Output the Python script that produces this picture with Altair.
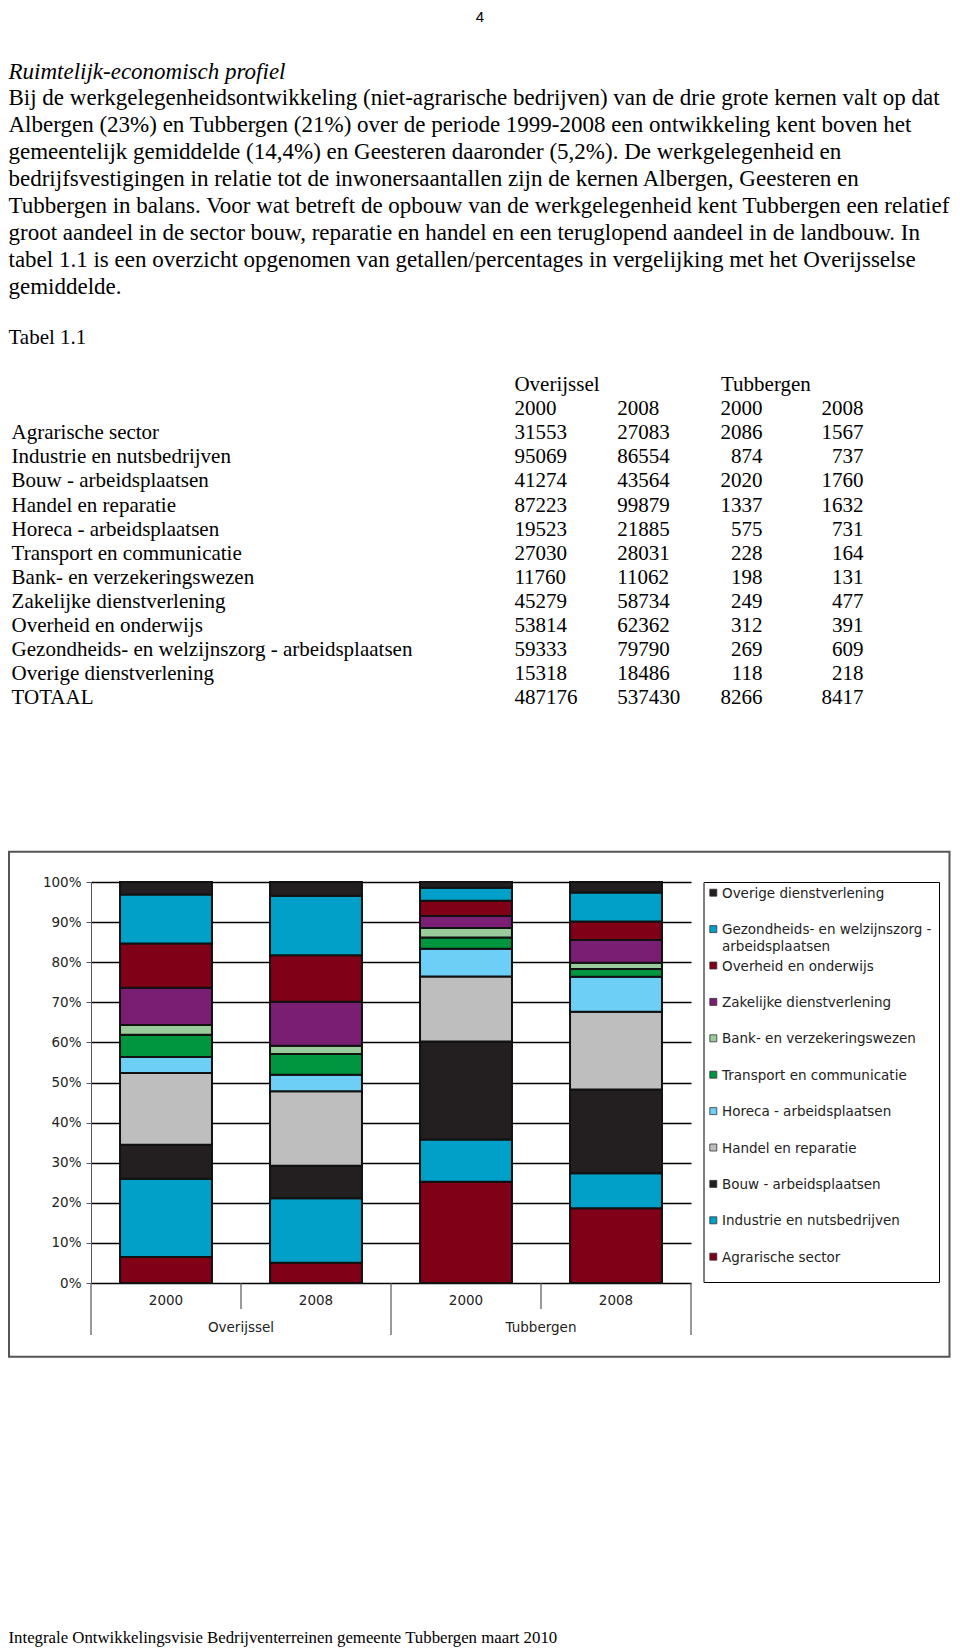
import altair as alt
import pandas as pd

# ---------------- data ----------------
sectors = [
    "Agrarische sector",
    "Industrie en nutsbedrijven",
    "Bouw - arbeidsplaatsen",
    "Handel en reparatie",
    "Horeca - arbeidsplaatsen",
    "Transport en communicatie",
    "Bank- en verzekeringswezen",
    "Zakelijke dienstverlening",
    "Overheid en onderwijs",
    "Gezondheids- en welzijnszorg - arbeidsplaatsen",
    "Overige dienstverlening",
]
legend_labels = [
    "Agrarische sector",
    "Industrie en nutsbedrijven",
    "Bouw - arbeidsplaatsen",
    "Handel en reparatie",
    "Horeca - arbeidsplaatsen",
    "Transport en communicatie",
    "Bank- en verzekeringswezen",
    "Zakelijke dienstverlening",
    "Overheid en onderwijs",
    "Gezondheids- en welzijnszorg -\narbeidsplaatsen",
    "Overige dienstverlening",
]
colors = [
    "#800018", "#00a0c8", "#231f20", "#bebebe", "#6dcff6", "#00963f",
    "#9acb9a", "#7a1e73", "#800018", "#00a0c8", "#231f20",
]
ov2000 = [31553, 95069, 41274, 87223, 19523, 27030, 11760, 45279, 53814, 59333, 15318]
ov2008 = [27083, 86554, 43564, 99879, 21885, 28031, 11062, 58734, 62362, 79790, 18486]
tu2000 = [2086, 874, 2020, 1337, 575, 228, 198, 249, 312, 269, 118]
tu2008 = [1567, 737, 1760, 1632, 731, 164, 131, 477, 391, 609, 218]
totals = [487176, 537430, 8266, 8417]

keys = ["Overijssel 2000", "Overijssel 2008", "Tubbergen 2000", "Tubbergen 2008"]
groups = ["Overijssel", "Overijssel", "Tubbergen", "Tubbergen"]
years = ["2000", "2008", "2000", "2008"]

page_number = "4"
title_text = "Ruimtelijk-economisch profiel"
para_lines = [
    "Bij de werkgelegenheidsontwikkeling (niet-agrarische bedrijven) van de drie grote kernen valt op dat",
    "Albergen (23%) en Tubbergen (21%) over de periode 1999-2008 een ontwikkeling kent boven het",
    "gemeentelijk gemiddelde (14,4%) en Geesteren daaronder (5,2%). De werkgelegenheid en",
    "bedrijfsvestigingen in relatie tot de inwonersaantallen zijn de kernen Albergen, Geesteren en",
    "Tubbergen in balans. Voor wat betreft de opbouw van de werkgelegenheid kent Tubbergen een relatief",
    "groot aandeel in de sector bouw, reparatie en handel en een teruglopend aandeel in de landbouw. In",
    "tabel 1.1 is een overzicht opgenomen van getallen/percentages in vergelijking met het Overijsselse",
    "gemiddelde.",
]
table_caption = "Tabel 1.1"
footer_text = "Integrale Ontwikkelingsvisie Bedrijventerreinen gemeente Tubbergen maart 2010"
table_rows = sectors + ["TOTAAL"]

SERIF = "Liberation Serif"
SANS = "DejaVu Sans"

# ---------------- tables ----------------
series = [ov2000, ov2008, tu2000, tu2008]
bar_records = []
for k, vals in zip(keys, series):
    for i, (s, v) in enumerate(zip(sectors, vals)):
        bar_records.append({"key": k, "sector": s, "sidx": i, "value": v})
bar_df = pd.DataFrame(bar_records)

tbl_df = pd.DataFrame({
    "row": table_rows,
    "c1": [str(v) for v in ov2000 + [totals[0]]],
    "c2": [str(v) for v in ov2008 + [totals[1]]],
    "c3": [str(v) for v in tu2000 + [totals[2]]],
    "c4": [str(v) for v in tu2008 + [totals[3]]],
})

leg_order = sectors[::-1]
leg_df = pd.DataFrame({"sector": leg_order, "label": legend_labels[::-1]})

one = pd.DataFrame({"a": [0]})

# ---------------- bar chart ----------------
def xk(**kw):
    return alt.X("key:N", sort=keys,
                 scale=alt.Scale(domain=keys, paddingInner=0, paddingOuter=0),
                 axis=None, **kw)

bars = alt.Chart(bar_df).mark_bar(
    width=alt.RelativeBandSize(0.613), stroke="#111", strokeWidth=2
).encode(
    x=xk(),
    y=alt.Y("value:Q", stack="normalize",
            scale=alt.Scale(domain=[0, 1], nice=False),
            axis=alt.Axis(orient="left", format=".0%",
                          values=[i / 10 for i in range(11)],
                          grid=True, gridColor="#000", gridWidth=1.3, gridOpacity=1,
                          domainColor="#555", tickColor="#555", tickSize=5,
                          labelPadding=5, labelFont=SANS, labelFontSize=13.5,
                          labelColor="#222", title=None)),
    color=alt.Color("sector:N", scale=alt.Scale(domain=sectors, range=colors), legend=None),
    order=alt.Order("sidx:Q", sort="ascending"),
)

sep_long = alt.Chart(pd.DataFrame({"key": [keys[0], keys[2]]})).mark_rule(
    color="#555", strokeWidth=1.2
).encode(x=xk(bandPosition=0), y=alt.value(401), y2=alt.value(453))
sep_right = alt.Chart(pd.DataFrame({"key": [keys[3]]})).mark_rule(
    color="#555", strokeWidth=1.2
).encode(x=xk(bandPosition=1), y=alt.value(401), y2=alt.value(453))
sep_short = alt.Chart(pd.DataFrame({"key": [keys[1], keys[3]]})).mark_rule(
    color="#555", strokeWidth=1.2
).encode(x=xk(bandPosition=0), y=alt.value(401), y2=alt.value(427))

year_lbl = alt.Chart(pd.DataFrame({"key": keys, "year": years})).mark_text(
    font=SANS, fontSize=13.5, color="#222", baseline="middle"
).encode(x=xk(), y=alt.value(419), text="year:N")

group_lbl = alt.Chart(pd.DataFrame({"key": [keys[1], keys[3]],
                                    "group": [groups[0], groups[2]]})).mark_text(
    font=SANS, fontSize=13.5, color="#222", baseline="middle"
).encode(x=xk(bandPosition=0), y=alt.value(446), text="group:N")

bar_layer = alt.layer(bars, sep_long, sep_right, sep_short, year_lbl, group_lbl)

# ---------------- chart frame + legend ----------------
outer_box = alt.Chart(one).mark_rect(filled=False, stroke="#555", strokeWidth=2).encode(
    x=alt.value(-82), x2=alt.value(858.5), y=alt.value(-30.3), y2=alt.value(474.7))
legend_box = alt.Chart(one).mark_rect(filled=False, stroke="#000", strokeWidth=1).encode(
    x=alt.value(613), x2=alt.value(848.5), y=alt.value(0.5), y2=alt.value(400.5))

yl = alt.Y("sector:N", sort=leg_order,
           scale=alt.Scale(type="point", domain=leg_order, range=[10.7, 374.7], padding=0),
           axis=None)
leg_sym = alt.Chart(leg_df).mark_square(size=49, stroke="#333", strokeWidth=0.8,
                                        opacity=1, filled=True).encode(
    x=alt.value(622.3), y=yl,
    color=alt.Color("sector:N", scale=alt.Scale(domain=sectors, range=colors), legend=None))
leg_txt = alt.Chart(leg_df).mark_text(
    align="left", baseline="top", dy=-6, font=SANS, fontSize=13.5, color="#222",
    lineBreak="\n", lineHeight=16.7
).encode(x=alt.value(631), y=yl, text="label:N")
legend_layer = alt.layer(leg_sym, leg_txt)

# ---------------- page text ----------------
pnum = alt.Chart(pd.DataFrame({"t": [page_number]})).mark_text(
    font="Liberation Sans", fontSize=15, color="#000", align="center", baseline="alphabetic"
).encode(x=alt.value(389), y=alt.value(-860.5), text="t:N")

title = alt.Chart(pd.DataFrame({"t": [title_text]})).mark_text(
    font=SERIF, fontSize=23, fontStyle="italic", color="#000", align="left", baseline="top"
).encode(x=alt.value(-82.5), y=alt.value(-821.5), text="t:N")

para = alt.Chart(pd.DataFrame({"t": ["\n".join(para_lines)]})).mark_text(
    font=SERIF, fontSize=23, color="#000", align="left", baseline="top",
    lineBreak="\n", lineHeight=26.95
).encode(x=alt.value(-82.5), y=alt.value(-794.8), text="t:N")

caption = alt.Chart(pd.DataFrame({"t": [table_caption]})).mark_text(
    font=SERIF, fontSize=21, color="#000", align="left", baseline="middle"
).encode(x=alt.value(-82.5), y=alt.value(-543.7), text="t:N")

footer = alt.Chart(pd.DataFrame({"t": [footer_text]})).mark_text(
    font=SERIF, fontSize=16.8, color="#000", align="left", baseline="alphabetic"
).encode(x=alt.value(-82.5), y=alt.value(760.5), text="t:N")

# ---------------- table ----------------
yt = alt.Y("row:N", sort=table_rows,
           scale=alt.Scale(type="point", domain=table_rows, range=[-448.7, -183.7], padding=0),
           axis=None)
tstyle = dict(font=SERIF, fontSize=21, color="#000", baseline="middle")
t_lbl = alt.Chart(tbl_df).mark_text(align="left", **tstyle).encode(
    x=alt.value(-79.4), y=yt, text="row:N")
t_c1 = alt.Chart(tbl_df).mark_text(align="left", **tstyle).encode(
    x=alt.value(423.4), y=yt, text="c1:N")
t_c2 = alt.Chart(tbl_df).mark_text(align="left", **tstyle).encode(
    x=alt.value(526.3), y=yt, text="c2:N")
t_c3 = alt.Chart(tbl_df).mark_text(align="right", **tstyle).encode(
    x=alt.value(671.4), y=yt, text="c3:N")
t_c4 = alt.Chart(tbl_df).mark_text(align="right", **tstyle).encode(
    x=alt.value(772.4), y=yt, text="c4:N")
table_layer = alt.layer(t_lbl, t_c1, t_c2, t_c3, t_c4)

hdr_ov = alt.Chart(pd.DataFrame({"t": [groups[0]]})).mark_text(align="left", **tstyle).encode(
    x=alt.value(423.4), y=alt.value(-497), text="t:N")
hdr_tu = alt.Chart(pd.DataFrame({"t": [groups[2]]})).mark_text(align="left", **tstyle).encode(
    x=alt.value(630), y=alt.value(-497), text="t:N")
hy1 = alt.Chart(pd.DataFrame({"t": [years[0]]})).mark_text(align="left", **tstyle).encode(
    x=alt.value(423.4), y=alt.value(-472.7), text="t:N")
hy2 = alt.Chart(pd.DataFrame({"t": [years[1]]})).mark_text(align="left", **tstyle).encode(
    x=alt.value(526.3), y=alt.value(-472.7), text="t:N")
hy3 = alt.Chart(pd.DataFrame({"t": [years[2]]})).mark_text(align="right", **tstyle).encode(
    x=alt.value(671.4), y=alt.value(-472.7), text="t:N")
hy4 = alt.Chart(pd.DataFrame({"t": [years[3]]})).mark_text(align="right", **tstyle).encode(
    x=alt.value(772.4), y=alt.value(-472.7), text="t:N")

chart = alt.layer(
    outer_box, bar_layer, legend_box, legend_layer,
    pnum, title, para, caption, table_layer,
    hdr_ov, hdr_tu, hy1, hy2, hy3, hy4, footer,
).resolve_scale(
    x="independent", y="independent", color="independent"
).properties(
    width=600, height=401,
    autosize=alt.AutoSizeParams(type="none"),
    padding={"left": 83, "top": 874, "right": 261, "bottom": 366},
    background="white",
).configure_view(stroke=None)

chart.save("out.html", embed_options={"renderer": "svg", "actions": False})
